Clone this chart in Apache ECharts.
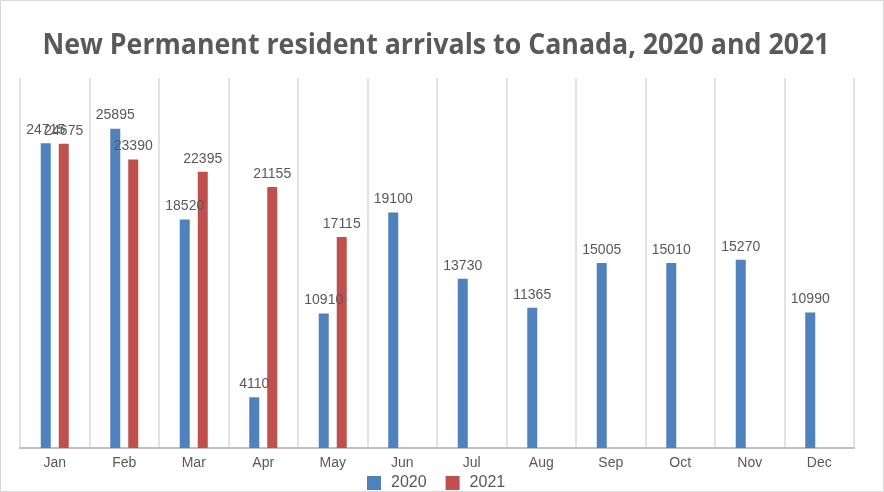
<!DOCTYPE html>
<html><head><meta charset="utf-8">
<script src="https://cdn.jsdelivr.net/npm/echarts@6/dist/echarts.min.js"></script>
<style>html,body{margin:0;padding:0;background:#fff}#c{width:884px;height:492px}</style>
</head><body><div id="c"></div>
<script>
const months = ['Jan','Feb','Mar','Apr','May','Jun','Jul','Aug','Sep','Oct','Nov','Dec'];
const arrivals2020 = [24715,25895,18520,4110,10910,19100,13730,11365,15005,15010,15270,10990];
const arrivals2021 = [24675,23390,22395,21155,17115,null,null,null,null,null,null,null];
const seriesNames = ['2020','2021'];
const titleText = 'New Permanent resident arrivals to Canada, 2020 and 2021';

const chart = echarts.init(document.getElementById('c'));
const lbl = {show:true, position:'top', distance:6, color:'#595959', fontSize:14, fontFamily:'Liberation Sans'};
chart.setOption({
  animation:false,
  graphic:[
    {type:'rect', shape:{x:0.5,y:0.5,width:883,height:491}, style:{fill:'none', stroke:'#d9d9d9', lineWidth:1}},
    {type:'text', x:436, y:60, scaleX:0.955, originX:0, originY:0,
      style:{text:titleText, fill:'#595959', font:'bold 28px "Open Sans"', textAlign:'center', textVerticalAlign:'bottom'}}
  ],
  legend:{bottom:1, left:367, padding:0, icon:'rect', itemWidth:14, itemHeight:14, itemGap:19,
    textStyle:{fontFamily:'Liberation Sans', fontSize:16, color:'#595959', padding:[0,0,0,5]}, data:seriesNames},
  grid:{left:20, right:30, top:78, bottom:44},
  xAxis:{type:'category', data:months,
    axisLine:{lineStyle:{color:'#bfbfbf', width:2}}, axisTick:{show:false},
    axisLabel:{color:'#595959', fontSize:14, fontFamily:'Liberation Sans', margin:8},
    splitLine:{show:true, lineStyle:{color:'#d9d9d9', width:1.5}}},
  yAxis:{type:'value', min:0, max:30000, show:false, splitLine:{show:false}},
  series:[
    {name:seriesNames[0], type:'bar', data:arrivals2020, barWidth:10, barGap:'80%', itemStyle:{color:'#4f81bd'}, label:lbl},
    {name:seriesNames[1], type:'bar', data:arrivals2021, barWidth:10, itemStyle:{color:'#c0504d'}, label:lbl}
  ]
});
</script></body></html>
